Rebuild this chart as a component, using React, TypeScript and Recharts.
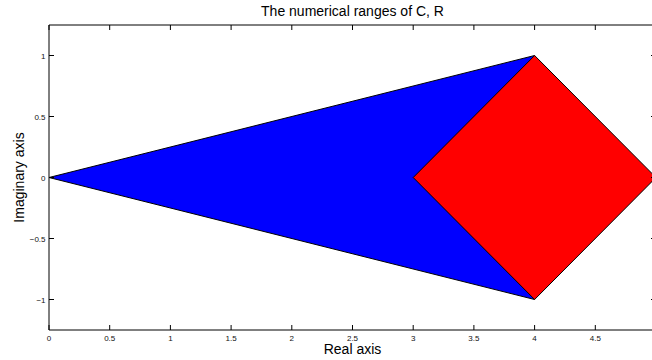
import { ComposedChart, Area, XAxis, YAxis, Label } from 'recharts';

// vertices of the two numerical ranges, listed by real part
const realParts = [0, 3, 4, 5];
const triangleLow = [0, null, -1, null];
const triangleHigh = [0, null, 1, null];
const squareLow = [null, 0, -1, 0];
const squareHigh = [null, 0, 1, 0];

const xTicks = [0, 0.5, 1, 1.5, 2, 2.5, 3, 3.5, 4, 4.5];
const yTicks = [-1, -0.5, 0, 0.5, 1];

const FONT = '"Liberation Sans", Arial, Helvetica, sans-serif';

const pair = (lo: number | null, hi: number | null) => (lo === null || hi === null ? null : [lo, hi]);

const data = realParts.map((x, i) => ({
  x,
  C: pair(triangleLow[i], triangleHigh[i]),
  R: pair(squareLow[i], squareHigh[i]),
}));

const fmt = (v: number) => (v < 0 ? '\u2212' + String(-v) : String(v));

// matlab style: ticks point into the box
const BottomTick = ({ x, y, payload }: any) => (
  <g>
    <line x1={x} y1={y} x2={x} y2={y - 5} stroke="#000" />
    <text x={x} y={y + 10.5} textAnchor="middle" fontSize={8} fontFamily={FONT} fill="#111">
      {fmt(payload.value)}
    </text>
  </g>
);

const TopTick = ({ x, y }: any) => <line x1={x} y1={y} x2={x} y2={y + 5} stroke="#000" />;

const LeftTick = ({ x, y, payload }: any) => (
  <g>
    <line x1={x} y1={y} x2={x + 5} y2={y} stroke="#000" />
    <text x={x - 3.5} y={y + 3} textAnchor="end" fontSize={8} fontFamily={FONT} fill="#111">
      {fmt(payload.value)}
    </text>
  </g>
);

const RightTick = ({ x, y }: any) => <line x1={x} y1={y} x2={x - 5} y2={y} stroke="#000" />;

export default function App() {
  return (
    <div style={{ position: 'absolute', left: 0, top: 0, width: 652, height: 360, overflow: 'hidden', background: '#fff' }}>
      <ComposedChart width={680} height={360} data={data} margin={{ top: 24, right: 23, bottom: 10, left: 9 }}>
        <XAxis xAxisId="b" dataKey="x" type="number" domain={[0, 5]} allowDataOverflow ticks={xTicks} interval={0}
          tickSize={0} tickMargin={0} tickLine={false} tick={<BottomTick />} height={20} axisLine={{ stroke: '#000' }}>
          <Label content={({ viewBox }: any) => (
            <text x={viewBox.x + viewBox.width / 2} y={viewBox.y + 24} textAnchor="middle" fontSize={14} fontFamily={FONT} fill="#000">
              Real axis
            </text>
          )} />
        </XAxis>
        <XAxis xAxisId="t" orientation="top" dataKey="x" type="number" domain={[0, 5]} allowDataOverflow ticks={xTicks} interval={0}
          tickSize={0} tickMargin={0} tickLine={false} tick={<TopTick />} height={1} axisLine={{ stroke: '#000' }}>
          <Label content={({ viewBox }: any) => (
            <text x={viewBox.x + viewBox.width / 2} y={viewBox.y + viewBox.height - 9} textAnchor="middle" fontSize={14} fontFamily={FONT} fill="#000">
              The numerical ranges of C, R
            </text>
          )} />
        </XAxis>
        <YAxis yAxisId="l" type="number" domain={[-1.25, 1.25]} allowDataOverflow ticks={yTicks} interval={0}
          tickSize={0} tickMargin={0} tickLine={false} tick={<LeftTick />} width={40} axisLine={{ stroke: '#000' }}>
          <Label content={({ viewBox }: any) => {
            const cx = viewBox.x + 15;
            const cy = viewBox.y + viewBox.height / 2;
            return (
              <text x={cx} y={cy} transform={`rotate(-90, ${cx}, ${cy})`} textAnchor="middle" fontSize={14} fontFamily={FONT} fill="#000">
                Imaginary axis
              </text>
            );
          }} />
        </YAxis>
        <YAxis yAxisId="r" orientation="right" type="number" domain={[-1.25, 1.25]} allowDataOverflow ticks={yTicks} interval={0}
          tickSize={0} tickMargin={0} tickLine={false} tick={<RightTick />} width={1} axisLine={{ stroke: '#000' }} />
        {/* invisible copy so the mirrored box axes get a domain */}
        <Area xAxisId="t" yAxisId="r" dataKey="C" type="linear" connectNulls fill="none" stroke="none"
          dot={false} activeDot={false} isAnimationActive={false} />
        <Area xAxisId="b" yAxisId="l" dataKey="C" type="linear" connectNulls fill="#0000ff" fillOpacity={1}
          stroke="#000" strokeWidth={1} dot={false} activeDot={false} isAnimationActive={false} />
        <Area xAxisId="b" yAxisId="l" dataKey="R" type="linear" connectNulls fill="#ff0000" fillOpacity={1}
          stroke="#000" strokeWidth={1} dot={false} activeDot={false} isAnimationActive={false} />
      </ComposedChart>
    </div>
  );
}
